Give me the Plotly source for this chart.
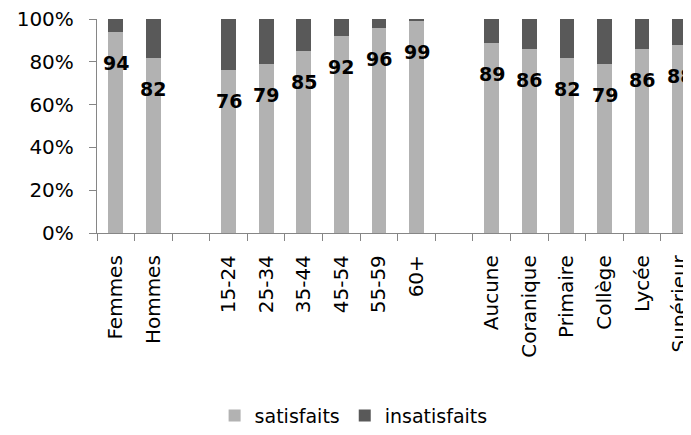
import plotly.graph_objects as go

categories = ["Femmes", "Hommes", " ", "15-24", "25-34", "35-44", "45-54", "55-59", "60+",
              "  ", "Aucune", "Coranique", "Primaire", "Collège", "Lycée", "Supérieur"]
satisfaits = [94, 82, None, 76, 79, 85, 92, 96, 99, None, 89, 86, 82, 79, 86, 88]
insatisfaits = [6, 18, None, 24, 21, 15, 8, 4, 1, None, 11, 14, 18, 21, 14, 12]
y_ticks = [0, 20, 40, 60, 80, 100]
y_tick_labels = ["0%", "20%", "40%", "60%", "80%", "100%"]

FONT = "DejaVu Sans"
fig = go.Figure()
fig.add_trace(go.Bar(x=categories, y=satisfaits, name="satisfaits",
                     marker=dict(color="#b2b2b2", line=dict(width=0))))
fig.add_trace(go.Bar(x=categories, y=insatisfaits, name="insatisfaits",
                     marker=dict(color="#595959", line=dict(width=0))))

for c, v in zip(categories, satisfaits):
    if v is None:
        continue
    fig.add_annotation(x=c, y=v, text=f"<b>{v}</b>", showarrow=False, yshift=-31,
                       font=dict(family=FONT, size=19, color="black"))

fig.update_layout(
    barmode="stack", bargap=0.61,
    width=683, height=419,
    margin=dict(l=89, r=0, t=11, b=194, autoexpand=False),
    plot_bgcolor="white", paper_bgcolor="white",
    font=dict(family=FONT, size=20, color="black"),
    showlegend=True,
    legend=dict(orientation="h", x=0.432, xanchor="center", y=-0.853, yanchor="middle",
                font=dict(family=FONT, size=19), traceorder="normal"),
    xaxis=dict(type="category", categoryorder="array", categoryarray=categories,
               range=[-0.5, 15.3], tickson="boundaries", ticks="outside", ticklen=7,
               tickcolor="#868686", showline=True, linecolor="#868686", linewidth=1.3,
               tickangle=-90, showgrid=False, automargin=False, ticklabelstandoff=13,
               ticklabeloverflow="allow", tickfont=dict(family=FONT, size=20)),
    yaxis=dict(range=[0, 100], tickvals=y_ticks, ticktext=y_tick_labels, ticks="outside",
               ticklen=7, tickcolor="#868686", showline=True, linecolor="#868686",
               linewidth=1.3, showgrid=False, zeroline=False, automargin=False,
               ticklabelstandoff=11, ticklabeloverflow="allow",
               tickfont=dict(family=FONT, size=20)),
)

fig.write_html("out.html")
